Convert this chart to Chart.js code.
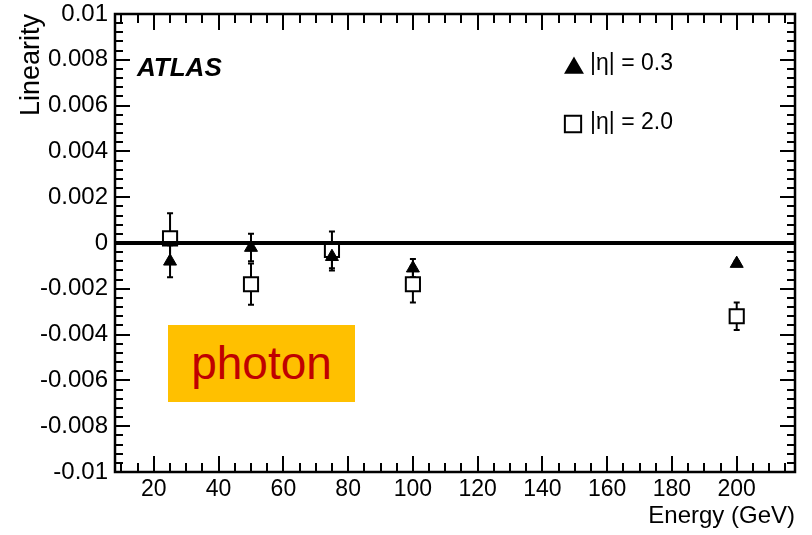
<!DOCTYPE html>
<html>
<head>
<meta charset="utf-8">
<script src="https://cdn.jsdelivr.net/npm/chart.js@4.4.1/dist/chart.umd.min.js"></script>
<style>
  html, body { margin: 0; padding: 0; background: #fff; }
  #wrap { position: relative; width: 812px; height: 535px; overflow: hidden; }
  canvas { position: absolute; left: 0; top: 0; }
  .ann { position: absolute; font-family: 'Liberation Sans', Arial, sans-serif; color: #000; white-space: nowrap; }
  #atlas { left: 137px; top: 54px; font-size: 26px; line-height: 26px; font-weight: bold; font-style: italic; }
  #leg1 { left: 590px; top: 51px; font-size: 23px; line-height: 23px; }
  #leg2 { left: 590px; top: 110px; font-size: 23px; line-height: 23px; }
  #photon { left: 168px; top: 325px; width: 187px; height: 77px; background: #FFC000; color: #C00000;
            font-size: 46px; line-height: 77px; text-align: center; }
</style>
</head>
<body>
<div id="wrap">
  <canvas id="c" width="812" height="535"></canvas>
  <div class="ann" id="atlas">ATLAS</div>
  <div class="ann" id="leg1">|η| = 0.3</div>
  <div class="ann" id="leg2">|η| = 2.0</div>
  <div class="ann" id="photon">photon</div>
</div>
<script>
// ---- data ----
const energies = [25, 50, 75, 100, 200];
const eta03 = [-0.0008, -0.0002, -0.0006, -0.0011, -0.0009];
const eta03Err = [0.0007, 0.0006, 0.0006, 0.0004, 0.0001];
const eta20 = [0.0002, -0.0018, -0.0003, -0.0018, -0.0032];
const eta20Err = [0.0011, 0.0009, 0.0008, 0.0008, 0.0006];
const xTicks = [20, 40, 60, 80, 100, 120, 140, 160, 180, 200];
const yTicks = [-0.01, -0.008, -0.006, -0.004, -0.002, 0, 0.002, 0.004, 0.006, 0.008, 0.01];
const xMinorStep = 5;
const yMinorStep = 0.0004;

const FONT = "'Liberation Sans', Arial, sans-serif";

const errorBars = {
  id: 'errorBars',
  beforeDatasetsDraw(chart) {
    const ctx = chart.ctx;
    const ys = chart.scales.y;
    ctx.save();
    ctx.strokeStyle = '#000';
    ctx.lineWidth = 2;
    chart.data.datasets.forEach((ds, di) => {
      const meta = chart.getDatasetMeta(di);
      meta.data.forEach((pt, i) => {
        const v = ds.data[i].y, e = ds.errors[i];
        const x = pt.x;
        const yt = ys.getPixelForValue(v + e);
        const yb = ys.getPixelForValue(v - e);
        ctx.beginPath();
        ctx.moveTo(x, yt); ctx.lineTo(x, yb);
        ctx.moveTo(x - 3, yt); ctx.lineTo(x + 3, yt);
        ctx.moveTo(x - 3, yb); ctx.lineTo(x + 3, yb);
        ctx.stroke();
      });
    });
    ctx.restore();
  }
};

const frameTicks = {
  id: 'frameTicks',
  afterDatasetsDraw(chart) {
    const ctx = chart.ctx;
    const a = chart.chartArea;
    const xs = chart.scales.x, ys = chart.scales.y;
    ctx.save();
    ctx.strokeStyle = '#000';
    // zero line
    ctx.lineWidth = 4;
    const y0 = ys.getPixelForValue(0);
    ctx.beginPath(); ctx.moveTo(a.left, y0); ctx.lineTo(a.right, y0); ctx.stroke();
    // ticks
    ctx.lineWidth = 2;
    ctx.beginPath();
    for (let k = 0; ; k++) {
      const v = yTicks[0] + k * yMinorStep;
      if (v > yTicks[yTicks.length - 1] + 1e-9) break;
      const major = Math.abs(Math.round(v / 0.002) * 0.002 - v) < 1e-9;
      const len = major ? 15 : 8;
      const p = Math.round(ys.getPixelForValue(v));
      ctx.moveTo(a.left, p); ctx.lineTo(a.left + len, p);
      ctx.moveTo(a.right, p); ctx.lineTo(a.right - len, p);
    }
    for (let v = 10; v <= xs.max; v += xMinorStep) {
      const major = xTicks.includes(v);
      const len = major ? 16 : 9;
      const p = Math.round(xs.getPixelForValue(v));
      ctx.moveTo(p, a.bottom); ctx.lineTo(p, a.bottom - len);
      ctx.moveTo(p, a.top); ctx.lineTo(p, a.top + len);
    }
    ctx.stroke();
    // frame
    ctx.lineWidth = 2.5;
    ctx.strokeRect(a.left, a.top, a.right - a.left, a.bottom - a.top);
    // legend markers
    const h = Chart.helpers;
    h.drawPoint(ctx, { pointStyle: 'triangle', radius: 9, borderWidth: 1 }, 574, 68);
    ctx.fillStyle = '#000';
    ctx.fill();
    ctx.fillStyle = '#fff';
    ctx.lineWidth = 2;
    h.drawPoint(ctx, { pointStyle: 'rect', radius: 11.5, borderWidth: 2 }, 573, 124);
    ctx.restore();
  }
};

new Chart(document.getElementById('c'), {
  type: 'scatter',
  data: {
    datasets: [
      {
        label: '|η| = 0.3',
        data: energies.map((x, i) => ({ x, y: eta03[i] })),
        errors: eta03Err,
        pointStyle: 'triangle',
        pointRadius: 7.5,
        pointHoverRadius: 7.5,
        backgroundColor: '#000',
        borderColor: '#000',
        borderWidth: 1
      },
      {
        label: '|η| = 2.0',
        data: energies.map((x, i) => ({ x, y: eta20[i] })),
        errors: eta20Err,
        pointStyle: 'rect',
        pointRadius: 10,
        pointHoverRadius: 10,
        backgroundColor: '#fff',
        borderColor: '#000',
        borderWidth: 2
      }
    ]
  },
  options: {
    responsive: false,
    animation: false,
    devicePixelRatio: 1,
    layout: { padding: { top: 14, right: 17, left: 0, bottom: 0 } },
    plugins: { legend: { display: false }, tooltip: { enabled: false } },
    scales: {
      x: {
        type: 'linear',
        min: 8, max: 218,
        afterBuildTicks(s) { s.ticks = xTicks.map(v => ({ value: v })); },
        afterFit(s) { s.height = 63; s.paddingLeft = 0; s.paddingRight = 0; },
        grid: { display: false, drawTicks: false },
        border: { display: false },
        ticks: { color: '#000', font: { family: FONT, size: 23 }, padding: 4, autoSkip: false, maxRotation: 0 },
        title: { display: true, text: 'Energy (GeV)', align: 'end', color: '#000',
                 font: { family: FONT, size: 24 }, padding: { top: 0, bottom: 4 } }
      },
      y: {
        type: 'linear',
        min: -0.01, max: 0.01,
        afterBuildTicks(s) { s.ticks = yTicks.map(v => ({ value: v })); },
        afterFit(s) { s.width = 115; s.paddingTop = 0; s.paddingBottom = 0; },
        grid: { display: false, drawTicks: false },
        border: { display: false },
        ticks: {
          color: '#000', font: { family: FONT, size: 24, lineHeight: 1.0 }, padding: 7, autoSkip: false,
          callback(v) { const r = parseFloat(Number(v).toFixed(3)); return r === 0 ? '0' : String(r); }
        },
        title: { display: true, text: 'Linearity', align: 'end', color: '#000',
                 font: { family: FONT, size: 27 }, padding: { top: 15, bottom: 0 } }
      }
    }
  },
  plugins: [errorBars, frameTicks]
});
</script>
</body>
</html>
